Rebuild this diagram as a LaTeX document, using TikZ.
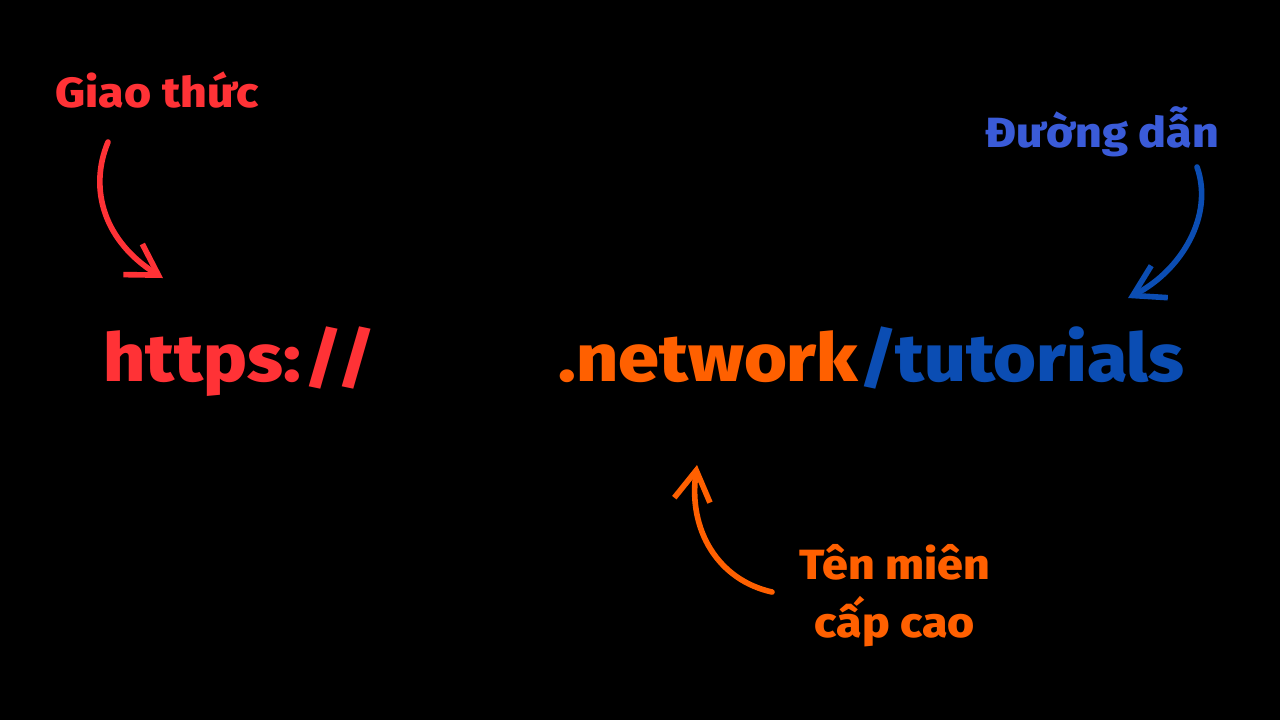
\documentclass[tikz,border=0pt]{standalone}
\usepackage{fontspec}
\setmainfont{Fira Sans}[BoldFont={Fira Sans ExtraBold},BoldFeatures={FakeStretch=1.1}]
\usepackage{tikz}
\usetikzlibrary{
    arrows.meta,
    positioning
}

\definecolor{protored}{HTML}{FF3236}
\definecolor{tldorange}{HTML}{FF6000}
\definecolor{pathblue}{HTML}{0B4DB3}
\definecolor{labelblue}{HTML}{3A5BD8}

\tikzset{
    urltext/.style={anchor=base west,inner sep=0pt,font=\fontsize{19}{24}\selectfont\bfseries},
    parttext/.style={inner sep=0pt,font=\fontsize{12}{16.5}\selectfont\bfseries,align=center},
    pointer/.style={line width=1.6pt,line cap=round,-{Straight Barb[length=0.3cm,width=0.36cm,line width=1.6pt]}}
}

\begin{document}
\begin{tikzpicture}[x=0.01cm,y=-0.01cm]

% Background
\fill[black] (0,0) rectangle (1280,720);
\useasboundingbox (0,0) rectangle (1280,720);

% URL
\node[urltext,text=protored] (proto) at (103,381) {https:\kern1pt/\kern-1.5pt/};
\node[urltext,text=tldorange] (tld) at (558,381) {.network};
\node[urltext,text=pathblue,anchor=base west] (path) at (tld.base east) {/tutorials};

% Labels
\node[parttext,text=protored,anchor=base west] (protolabel) at (55,107) {Giao thức};
\node[parttext,text=labelblue,anchor=base west] (pathlabel) at (985,147) {Đường dẫn};
\node[parttext,text=tldorange] (tldlabel) at (895,596) {Tên miên\\cấp cao};

% Arrow ends
\coordinate (protostart) at (108,142);
\coordinate (protoend) at (163,278);
\coordinate (pathstart) at (1197,167);
\coordinate (pathend) at (1128,298);
\coordinate (tldstart) at (772,592);
\coordinate (tldend) at (697,465);

% Arrows
\draw[pointer,protored] (protostart) .. controls (88,190) and (105,242) .. (protoend);
\draw[pointer,pathblue] (pathstart) .. controls (1214,215) and (1182,270) .. (pathend);
\draw[pointer,tldorange] (tldstart) .. controls (718,580) and (688,530) .. (tldend);

\end{tikzpicture}
\end{document}
